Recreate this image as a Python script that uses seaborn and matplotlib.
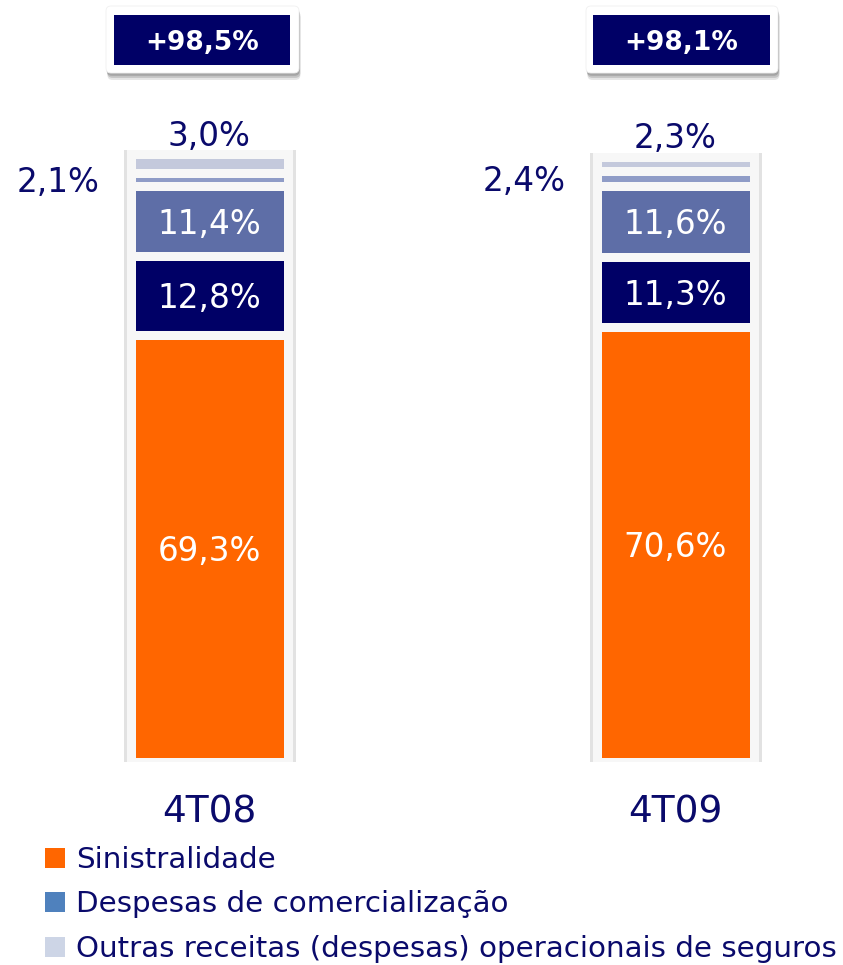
import matplotlib
matplotlib.use('Agg')
import matplotlib.pyplot as plt
import matplotlib.patheffects as pe
from matplotlib.patches import FancyBboxPatch, Rectangle, Patch
from matplotlib.transforms import IdentityTransform
import seaborn as sns
import numpy as np

# ---------------- data ----------------
categories = ['4T08', '4T09']
sinistralidade = [69.3, 70.6]
despesas_administrativas = [12.8, 11.3]
despesas_comercializacao = [11.4, 11.6]
outras_receitas = [2.1, 2.4]
outras_despesas = [3.0, 2.3]
total_labels = ['+98,5%', '+98,1%']

legend_labels = ['Sinistralidade', 'Despesas de comercialização',
                 'Outras receitas (despesas) operacionais de seguros']
legend_colors = ['#FF6600', '#4F81BD', '#CDD5E6']

series = [sinistralidade, despesas_administrativas, despesas_comercializacao,
          outras_receitas, outras_despesas]
colors = ['#FF6600', '#000066', '#5E6EA7', '#8F9CC7', '#C4C9DC']
NAVY = '#0A0A6B'
PANEL = '#F7F7F7'

sns.set_theme(style='white')
plt.rcParams['font.family'] = ['DejaVu Sans']

W, H = 843, 965
fig = plt.figure(figsize=(W / 100, H / 100), dpi=100)
ax = fig.add_axes([0, 203.5 / H, 1, 761.5 / H])

data = np.array(series)
cum = np.cumsum(data, axis=0)
PX_X = 466.5   # pixels per category unit
PX_Y = 6.16    # pixels per percentage point
bw = 157 / PX_X
lw = 9 * 72 / 100

# soft shadow behind the panel
sns.barplot(x=categories, y=cum[-1], color='#E2E2E2', width=bw + 6 / PX_X,
            edgecolor='#E2E2E2', linewidth=lw, saturation=1, errorbar=None, ax=ax)

# stacked segments (draw cumulative totals from the top down)
for k in reversed(range(len(series))):
    sns.barplot(x=categories, y=cum[k], color=colors[k], width=bw,
                edgecolor=PANEL, linewidth=lw, saturation=1, errorbar=None, ax=ax)

def fmt(v):
    return f'{v:.1f}'.replace('.', ',') + '%'

FS = 23.5
for i in range(len(categories)):
    for k in range(3):
        y = cum[k][i] - data[k][i] / 2
        ax.text(i, y, fmt(data[k][i]), ha='center', va='center_baseline',
                color='white', fontsize=FS)
    y = cum[3][i] - data[3][i] / 2
    ax.text(i - 0.235, y, fmt(data[3][i]), ha='right', va='center_baseline',
            color=NAVY, fontsize=FS)
    ax.text(i, cum[4][i] + 1.4, fmt(data[4][i]), ha='center', va='baseline',
            color=NAVY, fontsize=FS)

ax.set_xlim(-209 / PX_X, (W - 209) / PX_X)
ax.set_ylim(0, 761.5 / PX_Y)
ax.set_yticks([])
ax.set_xlabel('')
ax.set_ylabel('')
sns.despine(ax=ax, left=True, bottom=True)
ax.tick_params(axis='x', length=0, pad=23.5, labelsize=27, labelcolor=NAVY)

# total badges (pixel boxes)
badges = [(106, 6, 299, 73, 114, 15, 290, 65), (586, 6, 778, 73, 593, 15, 770, 65)]
for (ox0, oy0, ox1, oy1, ix0, iy0, ix1, iy1), lab in zip(badges, total_labels):
    outer = FancyBboxPatch((ox0, H - oy1), ox1 - ox0, oy1 - oy0,
                           boxstyle='round,pad=0,rounding_size=5',
                           transform=IdentityTransform(), facecolor='white',
                           edgecolor='#F0F0F0', linewidth=0.6, zorder=5)
    outer.set_path_effects([
        pe.SimplePatchShadow(offset=(1, -5), shadow_rgbFace='#999999', alpha=0.25),
        pe.SimplePatchShadow(offset=(1, -3.5), shadow_rgbFace='#888888', alpha=0.35),
        pe.SimplePatchShadow(offset=(0.5, -2), shadow_rgbFace='#777777', alpha=0.4),
        pe.Normal()])
    fig.add_artist(outer)
    inner = Rectangle((ix0, H - iy1), ix1 - ix0, iy1 - iy0, transform=IdentityTransform(),
                      facecolor='#000066', edgecolor='none', zorder=6)
    fig.add_artist(inner)
    fig.text((ix0 + ix1) / 2 / W, 1 - (iy0 + iy1) / 2 / H, lab, ha='center',
             va='center_baseline', color='white', fontsize=19, fontweight='bold', zorder=7)

# legend
handles = [Patch(facecolor=c, edgecolor='none') for c in legend_colors]
fig.legend(handles, legend_labels, loc='upper left', bbox_to_anchor=(45 / W, 1 - 846 / H),
           frameon=False, fontsize=21.2, handlelength=0.68, handleheight=0.68,
           handletextpad=0.38, labelspacing=0.56, borderpad=0, borderaxespad=0,
           labelcolor=NAVY)

fig.savefig('out.png', dpi=100)
